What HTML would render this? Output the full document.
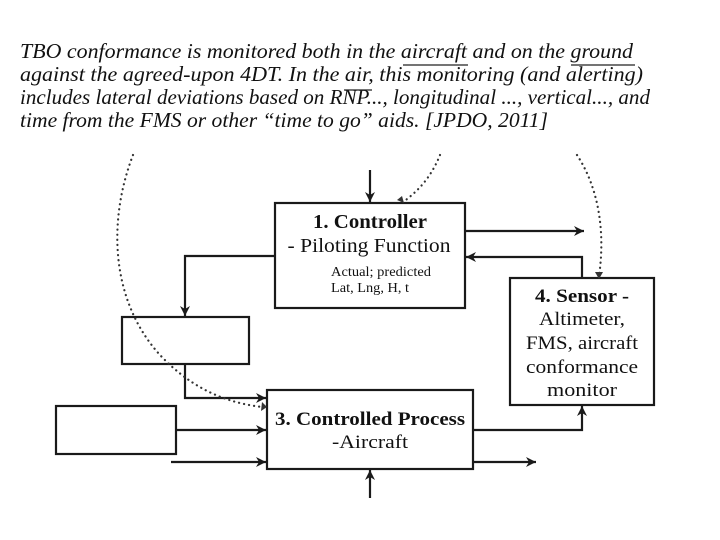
<!DOCTYPE html>
<html><head><meta charset="utf-8"><style>
html,body{margin:0;padding:0;background:#fff;}
svg{display:block;}
</style></head><body>
<svg width="720" height="540" viewBox="0 0 720 540" xmlns="http://www.w3.org/2000/svg">
<defs>
<marker id="a" viewBox="0 0 10 10" refX="10" refY="5" markerWidth="10" markerHeight="10" markerUnits="userSpaceOnUse" orient="auto">
<path d="M0,0 L10,5 L0,10 L3,5 z" fill="#1a1a1a"/></marker>
</defs>
<g font-family="Liberation Serif, serif" font-style="italic" font-size="21" fill="#111">
<text x="20" y="58" textLength="613" lengthAdjust="spacingAndGlyphs">TBO conformance is monitored both in the aircraft and on the ground</text>
<text x="20" y="81" textLength="623" lengthAdjust="spacingAndGlyphs">against the agreed-upon 4DT. In the air, this monitoring (and alerting)</text>
<text x="20" y="104" textLength="630" lengthAdjust="spacingAndGlyphs">includes lateral deviations based on RNP..., longitudinal ..., vertical..., and</text>
<text x="20" y="127" textLength="528" lengthAdjust="spacingAndGlyphs">time from the FMS or other “time to go” aids. [JPDO, 2011]</text>
</g>
<g stroke="#222" stroke-width="1.3">
<line x1="403" y1="65" x2="468" y2="65"/>
<line x1="571" y1="65" x2="635" y2="65"/>
<line x1="344" y1="90" x2="372" y2="90"/>
</g>
<g fill="none" stroke="#1a1a1a" stroke-width="2.2">
<rect x="275" y="203" width="190" height="105"/>
<rect x="510" y="278" width="144" height="127"/>
<rect x="267" y="390" width="206" height="79"/>
<rect x="122" y="317" width="127" height="47"/>
<rect x="56" y="406" width="120" height="48"/>
<path d="M370 170 V202" marker-end="url(#a)"/>
<path d="M465 231 H584" marker-end="url(#a)"/>
<path d="M582 278 V257 H466" marker-end="url(#a)"/>
<path d="M275 256 H185 V316" marker-end="url(#a)"/>
<path d="M185 364 V398 H266" marker-end="url(#a)"/>
<path d="M176 430 H266" marker-end="url(#a)"/>
<path d="M171 462 H266" marker-end="url(#a)"/>
<path d="M473 430 H582 V406" marker-end="url(#a)"/>
<path d="M473 462 H536" marker-end="url(#a)"/>
<path d="M370 498 V470" marker-end="url(#a)"/>
</g>
<g fill="none" stroke="#333" stroke-width="2.2" stroke-dasharray="0.1 5" stroke-linecap="round">
<path d="M133 155 C108 220 110 300 160 355 C195 392 230 403 262 407"/>
<path d="M440 155 C432 175 420 190 403 202"/>
<path d="M577 155 C600 190 605 235 599 276"/>
</g>
<path d="M262 402 L267 407 L261 411 z" fill="#333"/>
<path d="M397 200 L404 203 L402 196 z" fill="#333"/>
<path d="M595 272 L599 279 L603 272 z" fill="#333"/>
<g font-family="Liberation Serif, serif" fill="#111" text-anchor="middle">
<text x="370" y="228" font-size="20" font-weight="bold" textLength="114" lengthAdjust="spacingAndGlyphs">1. Controller</text>
<text x="369" y="252" font-size="20" textLength="163" lengthAdjust="spacingAndGlyphs">- Piloting Function</text>
<text x="331" y="276" font-size="14" text-anchor="start" textLength="100" lengthAdjust="spacingAndGlyphs">Actual; predicted</text>
<text x="331" y="292" font-size="14" text-anchor="start" textLength="78" lengthAdjust="spacingAndGlyphs">Lat, Lng, H, t</text>
<text x="582" y="302" font-size="19" font-weight="bold" textLength="94" lengthAdjust="spacingAndGlyphs">4. Sensor -</text>
<text x="582" y="325" font-size="19" textLength="86" lengthAdjust="spacingAndGlyphs">Altimeter,</text>
<text x="582" y="349" font-size="19" textLength="112" lengthAdjust="spacingAndGlyphs">FMS, aircraft</text>
<text x="582" y="373" font-size="19" textLength="112" lengthAdjust="spacingAndGlyphs">conformance</text>
<text x="582" y="396" font-size="19" textLength="70" lengthAdjust="spacingAndGlyphs">monitor</text>
<text x="370" y="425" font-size="19" font-weight="bold" textLength="190" lengthAdjust="spacingAndGlyphs">3. Controlled Process</text>
<text x="370" y="448" font-size="19" textLength="76" lengthAdjust="spacingAndGlyphs">-Aircraft</text>
</g>
</svg>
</body></html>
